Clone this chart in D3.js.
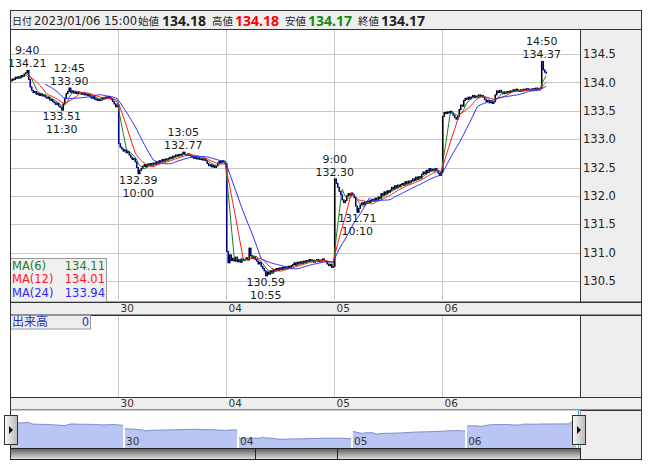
<!DOCTYPE html>
<html><head><meta charset="utf-8">
<script src="https://cdn.jsdelivr.net/npm/d3@7"></script>
<style>
body{margin:0;background:#fff;}
svg{display:block;font-family:"Noto Sans","Noto Sans CJK JP",sans-serif;}
</style>
</head><body>
<svg id="c" width="653" height="470"></svg>
<script>
// ---------------- DATA ----------------
const dayLabels = ["29", "30", "04", "05", "06"];
const dayBars = [72, 72, 72, 72, 70];

const close29 = [134.03,134.06,134.05,134.09,134.07,134.10,134.08,
  134.12,134.11,134.15,134.17,134.21,
  134.05,133.92,133.86,
  133.82,133.84,133.79,133.81,133.77,133.80,133.76,133.78,133.74,
  133.72,133.74,133.69,133.70,133.66,133.64,133.61,133.63,133.58,133.56,
  133.51,
  133.62,133.72,133.80,133.84,133.90,
  133.82,133.85,133.81,133.84,133.80,133.83,133.82,133.79,133.81,133.78,133.80,133.77,133.79,
  133.74,133.72,133.75,133.70,133.71,133.68,133.70,133.69,
  133.73,133.71,133.74,133.72,133.75,133.73,
  133.70,133.66,133.62,133.57,133.60];
const close30 = [132.92,132.86,132.83,132.79,132.81,132.76,
  132.78,132.72,132.68,132.64,132.66,132.60,
  132.50,132.39,132.45,132.48,132.52,
  132.55,132.51,132.56,132.53,132.57,132.54,132.58,132.55,132.60,132.57,
  132.62,132.60,132.64,132.61,132.65,132.63,132.66,
  132.68,132.66,132.70,132.69,132.72,132.70,132.73,132.71,132.74,132.77,132.73,132.71,132.74,132.72,132.70,
  132.69,132.66,132.68,132.65,132.67,132.64,132.66,132.63,132.65,132.62,
  132.57,132.53,132.55,132.51,132.54,132.50,132.53,
  132.58,132.61,132.59,132.62,132.60,132.57];
const close04 = [131.02,130.82,130.96,130.86,
  130.90,130.85,130.92,130.84,130.88,130.83,130.89,130.86,
  130.88,130.91,130.87,131.08,130.95,130.90,130.93,130.88,
  130.85,130.80,130.83,130.76,130.72,130.68,
  130.59,
  130.66,130.62,130.68,130.64,130.70,
  130.68,130.72,130.69,130.73,130.70,130.74,130.71,130.75,130.72,130.76,130.73,130.77,
  130.79,130.82,130.78,130.83,130.80,130.84,130.81,130.85,130.82,
  130.86,130.84,130.88,130.85,130.87,130.83,130.86,130.88,130.84,130.87,130.85,130.89,130.86,130.84,
  130.80,130.77,130.79,130.74,130.76];
const close05 = [132.30,
  132.22,132.15,132.08,132.02,
  131.93,131.88,131.92,
  132.00,132.04,132.01,132.05,132.02,131.97,
  131.82,131.71,131.78,131.84,
  131.88,131.85,131.90,131.87,131.91,131.88,131.92,
  131.94,131.91,131.96,131.93,131.98,131.95,
  132.04,132.01,132.07,132.03,132.09,132.06,132.10,
  132.15,132.12,132.18,132.14,132.19,132.16,132.20,
  132.22,132.19,132.25,132.21,132.26,132.23,132.27,
  132.30,132.27,132.33,132.29,132.34,132.31,
  132.38,132.42,132.39,132.45,132.41,132.48,132.44,
  132.47,132.44,132.48,132.45,
  132.40,132.36,132.42];
const close06 = [133.40,133.47,133.45,133.48,133.46,133.49,133.46,
  133.42,133.38,133.35,133.40,
  133.52,133.60,133.58,
  133.68,133.72,133.70,133.74,133.71,
  133.74,133.77,133.73,133.76,133.74,133.78,133.75,133.77,133.74,
  133.70,133.66,133.68,133.64,133.67,133.63,133.66,
  133.78,133.85,133.82,133.86,133.83,
  133.80,133.83,133.81,133.84,133.82,133.85,
  133.84,133.87,133.85,133.88,133.86,133.84,133.87,133.85,133.88,
  133.86,133.89,133.87,133.88,133.86,133.89,133.87,133.90,133.88,133.89,133.90,
  134.37,134.22,134.18,134.17];

const yTicks = [130.5, 131.0, 131.5, 132.0, 132.5, 133.0, 133.5, 134.0, 134.5];

// annotations: bar index, time text, value, high/low
const annoIndex = [11, 39, 34, 115, 85, 170, 216, 231, 354];
const annoTime  = ["9:40","12:45","11:30","13:05","10:00","10:55","9:00","10:10","14:50"];
const annoValue = [134.21, 133.90, 133.51, 132.77, 132.39, 130.59, 132.30, 131.71, 134.37];
const annoKind  = ["hi","hi","lo","hi","lo","lo","hi","lo","hi"];

const maPeriods = [6, 12, 24];
const maNames = ["MA(6)", "MA(12)", "MA(24)"];
const maColors = ["#1e7d1e", "#ff1a1a", "#2a2aff"];
const maLegendValues = ["134.11", "134.01", "133.94"];

const headerDateLabel = "日付";
const headerDate = "2023/01/06 15:00";
const headerLabels = ["始値", "高値", "安値", "終値"];
const headerValues = ["134.18", "134.18", "134.17", "134.17"];
const headerColors = ["#222", "#ff0000", "#138a13", "#222"];
const volumeLabel = "出来高";
const volumeValue = "0";

// ---------------- BUILD ----------------
const NUMFONT = "DejaVu Sans, Verdana, sans-serif";
const closes = [].concat(close29, close30, close04, close05, close06);
const N = closes.length;
const bars = closes.map((c, i) => ({i, open: i === 0 ? c : closes[i-1], close: c}));
const boundaries = []; { let s = 0; dayBars.forEach((b, k) => { if (k > 0) boundaries.push({idx: s, label: dayLabels[k]}); s += b; }); }
const dayStarts = []; { let s = 0; dayBars.forEach(b => { dayStarts.push([s, s + b]); s += b; }); }

const svg = d3.select("#c");
const L = 10, R = 580, RA = 641;
const TOP = 30, MAINB = 302;

const x = d3.scaleLinear().domain([0, N]).range([L, L + N * 1.5]);
const y = d3.scaleLinear().domain([130.5, 134.5]).range([281, 54]);

// header
svg.append("rect").attr("x", 10.5).attr("y", 10.5).attr("width", RA - 10).attr("height", 19.5)
  .attr("fill", "#eeeeee").attr("stroke", "#333");
svg.append("text").attr("x", 12).attr("y", 25).attr("font-size", 10).attr("fill", "#222").text(headerDateLabel);
svg.append("text").attr("x", 34).attr("y", 25).attr("font-size", 11.5).attr("font-family", NUMFONT).attr("fill", "#222")
  .text(headerDate);
const hx = [[138, 162], [212, 235], [285, 308], [358, 381]];
headerLabels.forEach((lab, k) => {
  svg.append("text").attr("x", hx[k][0]).attr("y", 25).attr("font-size", 10.5).attr("fill", "#222").text(lab);
  svg.append("text").attr("x", hx[k][1]).attr("y", 25.5).attr("font-size", 14).attr("font-weight", "bold")
    .attr("fill", headerColors[k]).text(headerValues[k]);
});

// main plot
svg.append("rect").attr("x", L + 0.5).attr("y", TOP - 0.5).attr("width", R - L).attr("height", MAINB - TOP + 0.5)
  .attr("fill", "#fff").attr("stroke", "#333");
svg.append("rect").attr("x", R + 0.5).attr("y", TOP - 0.5).attr("width", RA - R).attr("height", MAINB - TOP + 0.5)
  .attr("fill", "#eeeeee").attr("stroke", "#333");
svg.append("defs").append("clipPath").attr("id", "clipMain").append("rect")
  .attr("x", L + 1).attr("y", TOP).attr("width", R - L - 1).attr("height", MAINB - TOP);

const grid = svg.append("g").attr("stroke", "#c8c8c8").attr("shape-rendering", "crispEdges");
yTicks.forEach(t => grid.append("line").attr("x1", L + 1).attr("x2", R).attr("y1", Math.round(y(t)) + 0.5).attr("y2", Math.round(y(t)) + 0.5));
boundaries.forEach(b => grid.append("line").attr("x1", x(b.idx) + 0.5).attr("x2", x(b.idx) + 0.5).attr("y1", TOP).attr("y2", MAINB));

// y axis
const yAxis = svg.append("g").attr("transform", `translate(${R},0)`)
  .call(d3.axisRight(y).tickValues(yTicks).tickFormat(d3.format(".1f")).tickSize(0).tickPadding(3));
yAxis.select(".domain").remove();
yAxis.selectAll("text").attr("font-size", 11.5).attr("fill", "#222").attr("font-family", NUMFONT);

// candles
const gc = svg.append("g").attr("clip-path", "url(#clipMain)");
gc.selectAll("rect").data(bars).join("rect")
  .attr("x", d => x(d.i + 0.5) - 0.8)
  .attr("width", 1.6)
  .attr("y", d => y(Math.max(d.open, d.close)) - 0.5)
  .attr("height", d => Math.max(2, Math.abs(y(d.open) - y(d.close)) + 1))
  .attr("fill", d => d.close >= d.open ? "#000000" : "#000088");

// moving averages
const gma = svg.append("g").attr("clip-path", "url(#clipMain)");
maPeriods.forEach((p, k) => {
  const ma = closes.map((c, i) => i < p - 1 ? null : d3.mean(closes.slice(i - p + 1, i + 1)));
  gma.append("path").datum(ma.map((v, i) => ({i, v})))
    .attr("fill", "none").attr("stroke", maColors[k]).attr("stroke-width", 1)
    .attr("d", d3.line().defined(d => d.v !== null).x(d => x(d.i + 0.5)).y(d => y(d.v)));
});

// annotations
const ga = svg.append("g").attr("font-size", 11).attr("font-family", NUMFONT).attr("fill", "#1a1a1a").attr("text-anchor", "middle");
annoIndex.forEach((idx, k) => {
  const ax = x(idx + 0.5), ay = y(annoValue[k]);
  const v = annoValue[k].toFixed(2);
  if (annoKind[k] === "hi") {
    ga.append("text").attr("x", ax).attr("y", ay - 16).text(annoTime[k]);
    ga.append("text").attr("x", ax).attr("y", ay - 3).text(v);
  } else {
    ga.append("text").attr("x", ax).attr("y", ay + 10).text(v);
    ga.append("text").attr("x", ax).attr("y", ay + 23).text(annoTime[k]);
  }
});

// MA legend
svg.append("rect").attr("x", L + 0.5).attr("y", 258.5).attr("width", 96).attr("height", 43.5)
  .attr("fill", "#eeeeee").attr("fill-opacity", 0.9).attr("stroke", "#999");
maNames.forEach((n, k) => {
  svg.append("text").attr("x", 12).attr("y", 269.5 + k * 13.5).attr("font-size", 11.5).attr("font-family", NUMFONT)
    .attr("fill", maColors[k]).text(n);
  svg.append("text").attr("x", 105).attr("y", 269.5 + k * 13.5).attr("font-size", 11.5).attr("font-family", NUMFONT)
    .attr("text-anchor", "end").attr("fill", maColors[k]).text(maLegendValues[k]);
});

// date strips
function dateStrip(y0) {
  svg.append("rect").attr("x", L + 0.5).attr("y", y0 + 0.5).attr("width", RA - L).attr("height", 12.5)
    .attr("fill", "#eeeeee").attr("stroke", "#333");
  const ax = svg.append("g").attr("transform", `translate(0,${y0})`)
    .call(d3.axisBottom(x).tickValues(boundaries.map(b => b.idx))
      .tickFormat((d, i) => boundaries[i].label).tickSize(0).tickPadding(0));
  ax.select(".domain").remove();
  ax.selectAll("text").attr("text-anchor", "start").attr("dx", 2).attr("dy", 0).attr("y", 10)
    .attr("font-size", 10.5).attr("fill", "#333").attr("font-family", NUMFONT);
}
dateStrip(MAINB);

// volume panel
const VT = 315, VB = 397;
svg.append("rect").attr("x", L + 0.5).attr("y", VT + 0.5).attr("width", R - L).attr("height", VB - VT)
  .attr("fill", "#fff").attr("stroke", "#333");
svg.append("rect").attr("x", R + 0.5).attr("y", VT + 0.5).attr("width", RA - R).attr("height", VB - VT)
  .attr("fill", "#eeeeee").attr("stroke", "#333");
const vg = svg.append("g").attr("stroke", "#c8c8c8").attr("shape-rendering", "crispEdges");
boundaries.forEach(b => vg.append("line").attr("x1", x(b.idx) + 0.5).attr("x2", x(b.idx) + 0.5).attr("y1", VT + 1).attr("y2", VB));
svg.append("rect").attr("x", L + 0.5).attr("y", VT + 0.5).attr("width", 80).attr("height", 13.5)
  .attr("fill", "#eeeeee").attr("stroke", "#999");
svg.append("text").attr("x", 12).attr("y", 326).attr("font-size", 12).attr("fill", "#2b2bd0").text(volumeLabel);
svg.append("text").attr("x", 89).attr("y", 326).attr("font-size", 11.5).attr("font-family", NUMFONT)
  .attr("text-anchor", "end").attr("fill", "#2b2bd0").text(volumeValue);

dateStrip(VB);

// navigator
const NT = 410, NB = 448, SB = 459;
svg.append("rect").attr("x", R + 0.5).attr("y", NT + 0.5).attr("width", RA - R).attr("height", SB - NT)
  .attr("fill", "#eeeeee").attr("stroke", "#333");
svg.append("rect").attr("x", L + 0.5).attr("y", NT + 0.5).attr("width", R - L).attr("height", NB - NT)
  .attr("fill", "#fff").attr("stroke", "none");
const xn = d3.scaleLinear().domain([0, N]).range([L, 577]);
const yn = d3.scaleLinear().domain([129.0, 134.5]).range([NB - 1, 421]);
const area = d3.area().x(d => xn(d.i + 0.5)).y0(NB).y1(d => yn(d.close));
const lineN = d3.line().x(d => xn(d.i + 0.5)).y(d => yn(d.close));
dayStarts.forEach(([s, e]) => {
  const seg = bars.slice(s, e);
  svg.append("path").datum(seg).attr("d", area).attr("fill", "#b9c6f3");
  svg.append("path").datum(seg).attr("d", lineN).attr("fill", "none").attr("stroke", "#7b87c9").attr("stroke-width", 1);
});
boundaries.forEach(b => {
  svg.append("line").attr("x1", xn(b.idx)).attr("x2", xn(b.idx)).attr("y1", NT + 8).attr("y2", NB)
    .attr("stroke", "#fff").attr("stroke-width", 1.5);
  svg.append("text").attr("x", xn(b.idx) + 2).attr("y", 445).attr("font-size", 10.5).attr("font-family", NUMFONT)
    .attr("fill", "#333").text(b.label);
});
// cyan guides
[L + 0.5, R - 1.5].forEach(gx => svg.append("line").attr("x1", gx).attr("x2", gx).attr("y1", NT).attr("y2", NB)
  .attr("stroke", "#2aa6e0").attr("stroke-width", 1));
// scrollbar
const defs = svg.select("defs");
const gr = defs.append("linearGradient").attr("id", "sbg").attr("x1", 0).attr("x2", 0).attr("y1", 0).attr("y2", 1);
gr.append("stop").attr("offset", "0%").attr("stop-color", "#5a5a5a");
gr.append("stop").attr("offset", "100%").attr("stop-color", "#e4e4e4");
svg.append("rect").attr("x", L + 0.5).attr("y", NB + 0.5).attr("width", R - L).attr("height", SB - NB)
  .attr("fill", "url(#sbg)").attr("stroke", "#222");
[255.5, 337.5].forEach(dx => svg.append("line").attr("x1", dx).attr("x2", dx).attr("y1", NB).attr("y2", SB).attr("stroke", "#222"));
svg.append("line").attr("x1", L + 0.5).attr("x2", L + 0.5).attr("y1", TOP).attr("y2", SB).attr("stroke", "#333");
// handles
const hg = defs.append("linearGradient").attr("id", "hg").attr("x1", 0).attr("x2", 1).attr("y1", 0).attr("y2", 0);
hg.append("stop").attr("offset", "0%").attr("stop-color", "#fafafa");
hg.append("stop").attr("offset", "100%").attr("stop-color", "#b8b8b8");
[4, 572].forEach(hx0 => {
  svg.append("rect").attr("x", hx0 + 0.5).attr("y", 415.5).attr("width", 13).attr("height", 29)
    .attr("fill", "url(#hg)").attr("stroke", "#333");
  svg.append("path").attr("d", `M${hx0 + 5},${426} L${hx0 + 9},${430} L${hx0 + 5},${434} Z`).attr("fill", "#111");
});
</script>
</body></html>
